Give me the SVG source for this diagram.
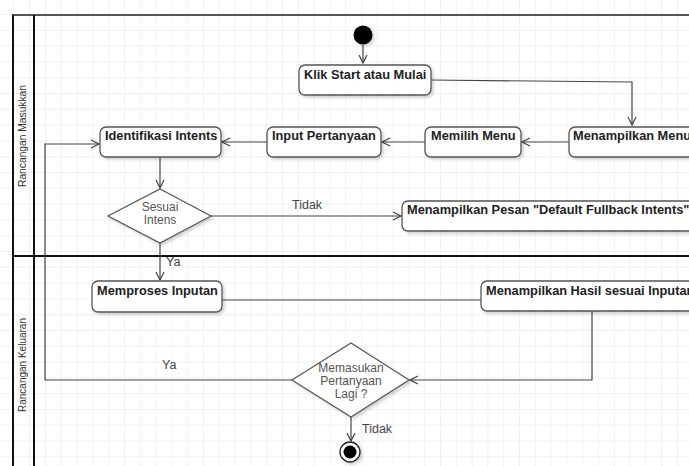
<svg xmlns="http://www.w3.org/2000/svg" width="689" height="466" viewBox="0 0 689 466">
<defs>
<pattern id="grid" x="13.4" y="14" width="15.8" height="15.8" patternUnits="userSpaceOnUse">
<path d="M0,0 H15.8 M0,0 V15.8" fill="none" stroke="#e4e4e4" stroke-width="1"/>
</pattern>
<marker id="arr" markerWidth="10" markerHeight="10" refX="9" refY="5" orient="auto" markerUnits="userSpaceOnUse">
<path d="M1,1 L9,5 L1,9" fill="none" stroke="#444" stroke-width="1.2"/>
</marker>
<filter id="sh" x="-10%" y="-10%" width="130%" height="140%">
<feDropShadow dx="2" dy="2" stdDeviation="1.5" flood-color="#000" flood-opacity="0.18"/>
</filter>
</defs>
<style>
.box{fill:#fff;stroke:#555;stroke-width:1.3;filter:url(#sh)}
.dia{fill:#fff;stroke:#555;stroke-width:1.2;filter:url(#sh)}
.bt{font-family:"Liberation Sans",Arial,sans-serif;font-weight:bold;font-size:12.8px;fill:#222}
.dt{font-family:"Liberation Sans",Arial,sans-serif;font-size:12px;fill:#555;text-anchor:middle}
.lb{font-family:"Liberation Sans",Arial,sans-serif;font-size:12.5px;fill:#444}
.ln{font-family:"Liberation Sans",Arial,sans-serif;font-size:11px;fill:#333;text-anchor:middle}
.c{fill:none;stroke:#444;stroke-width:1.2}
</style>
<rect width="689" height="466" fill="#fff"/>
<rect width="689" height="466" fill="url(#grid)"/>
<g id="swimlanes">
<line x1="12" y1="15" x2="689" y2="15" stroke="#555" stroke-width="2"/>
<line x1="13" y1="15" x2="13" y2="466" stroke="#111" stroke-width="2"/>
<line x1="34" y1="15" x2="34" y2="466" stroke="#111" stroke-width="2"/>
<line x1="13" y1="256" x2="689" y2="256" stroke="#111" stroke-width="2"/>
<text class="ln" transform="translate(26,136) rotate(-90)" textLength="102" lengthAdjust="spacingAndGlyphs">Rancangan Masukkan</text>
<text class="ln" transform="translate(26,365) rotate(-90)" textLength="94" lengthAdjust="spacingAndGlyphs">Rancangan Keluaran</text>
</g>
<g id="connectors">
<path class="c" d="M363,45 V63" marker-end="url(#arr)"/>
<path class="c" d="M431,80 L632,82 V125" marker-end="url(#arr)"/>
<path class="c" d="M569,142 H522" marker-end="url(#arr)"/>
<path class="c" d="M425,142 H382" marker-end="url(#arr)"/>
<path class="c" d="M267,142 H222" marker-end="url(#arr)"/>
<path class="c" d="M160,157 V188" marker-end="url(#arr)"/>
<path class="c" d="M211,216 H401" marker-end="url(#arr)"/>
<path class="c" d="M160,243 V280" marker-end="url(#arr)"/>
<path class="c" d="M222,300 H481"/>
<path class="c" d="M592,311 V380 H410" marker-end="url(#arr)"/>
<path class="c" d="M292,380 H45 V144 H99" marker-end="url(#arr)"/>
<path class="c" d="M351,417 V441" marker-end="url(#arr)"/>
<text class="lb" x="292" y="209">Tidak</text>
<text class="lb" x="166" y="266">Ya</text>
<text class="lb" x="162" y="369">Ya</text>
<text class="lb" x="362" y="433">Tidak</text>
</g>
<g id="start"><circle cx="363" cy="35" r="9.5" fill="#000" filter="url(#sh)"/></g>
<g id="klik"><rect class="box" x="299" y="65" width="132" height="30" rx="6"/><text class="bt" x="304" y="79">Klik Start atau Mulai</text></g>
<g id="menampilkan-menu"><rect class="box" x="569" y="127" width="130" height="30" rx="6"/><text class="bt" x="573" y="140">Menampilkan Menu</text></g>
<g id="memilih-menu"><rect class="box" x="425" y="127" width="96" height="30" rx="6"/><text class="bt" x="431" y="140">Memilih Menu</text></g>
<g id="input-pertanyaan"><rect class="box" x="267" y="127" width="114" height="30" rx="6"/><text class="bt" x="272" y="140">Input Pertanyaan</text></g>
<g id="identifikasi"><rect class="box" x="100" y="127" width="121" height="30" rx="6"/><text class="bt" x="105" y="140">Identifikasi Intents</text></g>
<g id="sesuai"><polygon class="dia" points="160,189 211,216 160,243 108,216"/><text class="dt" x="160" y="211">Sesuai</text><text class="dt" x="160" y="224">Intens</text></g>
<g id="pesan-default"><rect class="box" x="402" y="201" width="297" height="30" rx="6"/><text class="bt" x="407" y="214">Menampilkan Pesan "Default Fullback Intents"</text></g>
<g id="memproses"><rect class="box" x="92" y="281" width="130" height="31" rx="6"/><text class="bt" x="97" y="295">Memproses Inputan</text></g>
<g id="hasil"><rect class="box" x="481" y="281" width="218" height="30" rx="6"/><text class="bt" x="486" y="295">Menampilkan Hasil sesuai Inputan</text></g>
<g id="memasukan"><polygon class="dia" points="351,343 409,380 351,417 292,380"/><text class="dt" x="351" y="372">Memasukan</text><text class="dt" x="351" y="385">Pertanyaan</text><text class="dt" x="351" y="398">Lagi ?</text></g>
<g id="end"><circle cx="350" cy="452" r="10" fill="#fff" stroke="#222" stroke-width="1.3" filter="url(#sh)"/><circle cx="350" cy="452" r="6.5" fill="#000"/></g>
</svg>
